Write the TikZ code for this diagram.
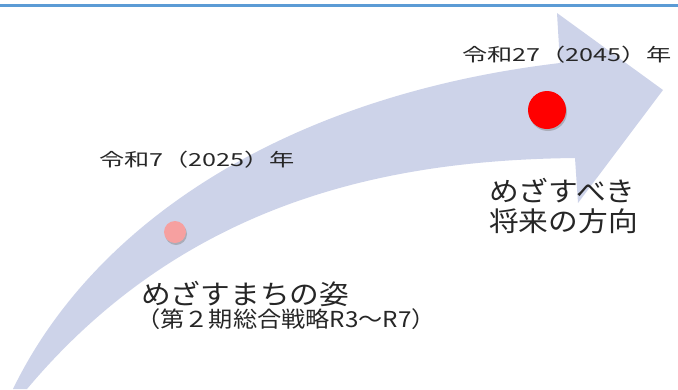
\documentclass[tikz,border=0pt]{standalone}
\usepackage{fontspec}
\setmainfont{Noto Sans CJK JP}[FakeStretch=1.1]
\newfontfamily\widejp{Noto Sans CJK JP}[FakeStretch=1.4]
\usetikzlibrary{shadows}
\definecolor{arrowfill}{RGB}{205,211,233}
\definecolor{ruleblue}{RGB}{91,155,213}
\definecolor{textgray}{RGB}{38,38,38}
\definecolor{nowpink}{RGB}{246,160,160}
\begin{document}
\begin{tikzpicture}[x=1pt, y=-1pt,
					every node/.style={text=textgray, inner sep=0pt},
					yearlabel/.style={anchor=west, font=\widejp\fontsize{18}{20}\selectfont},
					biglabel/.style={anchor=west, align=left, font=\fontsize{27}{30}\selectfont},
					sublabel/.style={anchor=west, font=\fontsize{22}{26}\selectfont},
					dot/.style={circle, draw=none, drop shadow={shadow xshift=1pt, shadow yshift=-2pt, opacity=.45}},
					nowdot/.style={dot, fill=nowpink, minimum size=22pt},
					goaldot/.style={dot, fill=red, minimum size=38pt}]
					\useasboundingbox (0,0) rectangle (678,389);
					\draw[ruleblue, line width=3pt] (0,5.5) -- (678,5.5);
					\fill[arrowfill] (13,389) .. controls (95,220) and (290,95) .. (560,63)
						-- (557,13) -- (663,90) -- (578,203) -- (575,158)
						.. controls (400,160) and (190,195) .. (27,389) -- cycle;
					\node[nowdot] (now) at (175,232) {};
					\node[goaldot] (goal) at (547,110) {};
					\node[yearlabel] (year2025) at (99,160) {令和7（2025）年};
					\node[yearlabel] (year2045) at (462,55) {令和27（2045）年};
					\node[biglabel] (future) at (489,206) {めざすべき\\将来の方向};
					\node[biglabel] (town) at (141,294) {めざすまちの姿};
					\node[sublabel] (plan) at (136,319) {（第２期総合戦略R3〜R7）};
				\end{tikzpicture}
\end{document}
